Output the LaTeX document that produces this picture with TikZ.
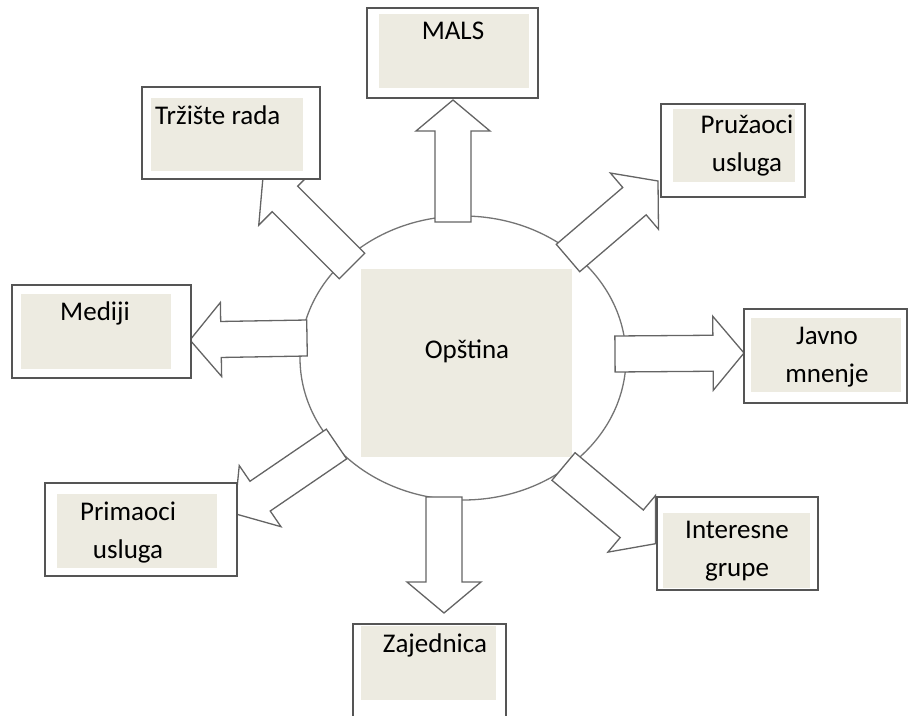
\documentclass[tikz,border=0pt]{standalone}
\usepackage{fontspec}
\setmainfont{Carlito}
\usetikzlibrary{calc,shapes.geometric}
\definecolor{bez}{RGB}{237,235,225}
\definecolor{okvirsiva}{RGB}{85,85,85}
\definecolor{linijasiva}{RGB}{100,100,100}
\def\strelica(#1)(#2){\coordinate (glava) at ($(#2)!31pt!(#1)$); \draw[strelica] ($(#1)!18pt!90:(#2)$) -- ($(glava)!18pt!90:(#2)$) -- ($(glava)!37pt!90:(#2)$) -- (#2) -- ($(glava)!37pt!-90:(#2)$) -- ($(glava)!18pt!-90:(#2)$) -- ($(#1)!18pt!-90:(#2)$) -- cycle;}
\tikzset{
	okvir/.style n args={4}{draw=okvirsiva, line width=1.8pt, fill=white, inner sep=0pt, path picture={\fill[bez] ([xshift=#1pt,yshift=-#2pt]path picture bounding box.north west) rectangle ([xshift=-#3pt,yshift=#4pt]path picture bounding box.south east);}},
	natpis/.style={font=\fontsize{27pt}{38pt}\selectfont, align=center, inner sep=0pt, anchor=base},
	strelica/.style={draw=linijasiva, line width=1.3pt, fill=white, line join=miter},
	krug/.style={ellipse, draw=linijasiva!90, line width=1.3pt, fill=white, inner sep=0pt}
}

\begin{document}
\begin{tikzpicture}[x=1pt, y=-1pt]
			%%%%% START %%%%%
			\useasboundingbox (0,0) rectangle (910,715);
			
			\node[krug, minimum width=326pt, minimum height=284pt] (krug) at (463,358) {};
			\node[fill=bez, inner sep=0pt, minimum width=211pt, minimum height=188pt] (opstina) at (466.5,363) {};
			
			\coordinate (rep-mals) at (453,222);		\coordinate (vrh-mals) at (453,100);
			\coordinate (rep-pruzaoci) at (568,258);	\coordinate (vrh-pruzaoci) at (658,181);
			\coordinate (rep-javno) at (615,354);		\coordinate (vrh-javno) at (744,353);
			\coordinate (rep-interesne) at (563.5,466.5);	\coordinate (vrh-interesne) at (655.5,543.7);
			\coordinate (rep-zajednica) at (444,497);	\coordinate (vrh-zajednica) at (444,613);
			\coordinate (rep-primaoci) at (336.5,444);	\coordinate (vrh-primaoci) at (234.5,513.6);
			\coordinate (rep-mediji) at (307,338);		\coordinate (vrh-mediji) at (190,340);
			\coordinate (rep-trziste) at (352,266);		\coordinate (vrh-trziste) at (263,177);
			
			\strelica(rep-mals)(vrh-mals)
			\strelica(rep-pruzaoci)(vrh-pruzaoci)
			\strelica(rep-javno)(vrh-javno)
			\strelica(rep-interesne)(vrh-interesne)
			\strelica(rep-zajednica)(vrh-zajednica)
			\strelica(rep-primaoci)(vrh-primaoci)
			\strelica(rep-mediji)(vrh-mediji)
			\strelica(rep-trziste)(vrh-trziste)
			
			\node[okvir={12}{6}{9}{10}, minimum width=171pt, minimum height=90pt] (mals) at (452.5,53) {};
			\node[okvir={9}{11}{17}{8}, minimum width=178pt, minimum height=92pt] (trziste) at (231,133) {};
			\node[okvir={12}{5}{10}{15}, minimum width=144pt, minimum height=93pt] (pruzaoci) at (733,150.5) {};
			\node[okvir={9}{9}{20}{9}, minimum width=179pt, minimum height=93pt] (mediji) at (101.5,331.5) {};
			\node[okvir={7}{9}{6}{11}, minimum width=163pt, minimum height=94pt] (javno) at (825.5,356) {};
			\node[okvir={6}{16}{8}{2}, minimum width=161pt, minimum height=93pt] (interesne) at (737.5,543.5) {};
			\node[okvir={12}{11}{20}{8}, minimum width=192pt, minimum height=93pt] (primaoci) at (141,529.5) {};
			\node[okvir={8}{2}{10}{18}, minimum width=153pt, minimum height=94pt] (zajednica) at (429.5,671) {};
			
			\node[natpis] (t-opstina) at (467,358) {Opština};
			\node[natpis] (t-mals) at (453,39) {MALS};
			\node[natpis, anchor=base west] (t-trziste) at (155,124) {Tržište rada};
			\node[natpis] (t-pruzaoci) at (747,171) {Pružaoci\\usluga};
			\node[natpis] (t-mediji) at (95,320) {Mediji};
			\node[natpis] (t-javno) at (827,382) {Javno\\mnenje};
			\node[natpis] (t-interesne) at (737,576) {Interesne\\grupe};
			\node[natpis] (t-primaoci) at (128,558) {Primaoci\\usluga};
			\node[natpis] (t-zajednica) at (435,652) {Zajednica};
			%%%%% END %%%%%
\end{tikzpicture}
\end{document}
